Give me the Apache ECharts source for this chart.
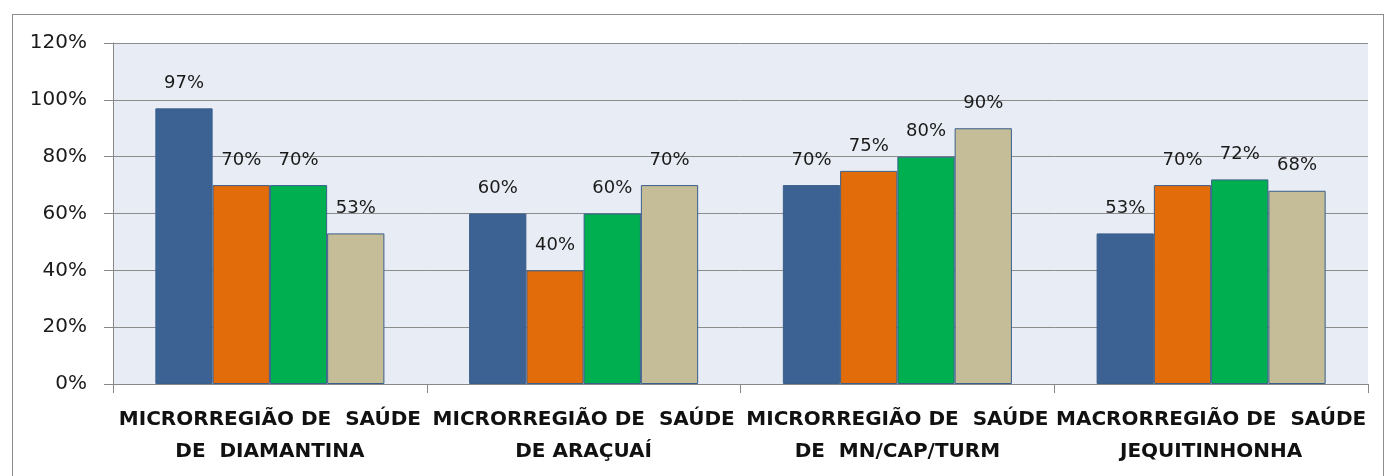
<!DOCTYPE html>
<html>
<head>
<meta charset="utf-8">
<script src="https://cdn.jsdelivr.net/npm/echarts@6/dist/echarts.min.js"></script>
<style>
    html, body { margin: 0; padding: 0; background: #FFF; }
    .frame {
        position: absolute;
        left: 12px; top: 14px;
        width: 1372px; height: 470px;
        border: 1px solid #8C8C8C;
        box-sizing: border-box;
    }
    #chart { position: absolute; left: 0; top: 0; width: 1388px; height: 476px; }
</style>
</head>
<body>
<div class="frame"></div>
<div id="chart"></div>
<script>
const categories = [
    'MICRORREGIÃO DE  SAÚDE\nDE  DIAMANTINA',
    'MICRORREGIÃO DE  SAÚDE\nDE ARAÇUAÍ',
    'MICRORREGIÃO DE  SAÚDE\nDE  MN/CAP/TURM',
    'MACRORREGIÃO DE  SAÚDE\nJEQUITINHONHA'
];
const serie1 = [97, 60, 70, 53];
const serie2 = [70, 40, 75, 70];
const serie3 = [70, 60, 80, 72];
const serie4 = [53, 70, 90, 68];

const colorList = ['#3C6294', '#E36C0A', '#00B050', '#C4BD97'];
const fontFamily = '"DejaVu Sans", sans-serif';

const myChart = echarts.init(document.getElementById('chart'));

function makeSeries(name, data, index) {
    return {
        name: name,
        type: 'bar',
        data: data,
        barGap: '0%',
        barCategoryGap: '27%',
        itemStyle: { color: colorList[index], borderColor: '#3A5F8B', borderWidth: 1 },
        label: {
            show: true,
            position: 'top',
            distance: 16,
            formatter: '{c}%',
            fontFamily: fontFamily,
            fontSize: 18,
            color: '#1A1A1A'
        }
    };
}

myChart.setOption({
    animation: false,
    grid: {
        left: 113, right: 20, top: 43, bottom: 92,
        show: true,
        backgroundColor: '#E8ECF4',
        borderWidth: 0
    },
    xAxis: {
        type: 'category',
        data: categories,
        axisLine: { lineStyle: { color: '#888' } },
        axisTick: { show: true, length: 9, lineStyle: { color: '#888' } },
        axisLabel: {
            interval: 0,
            fontFamily: fontFamily,
            fontSize: 20,
            fontWeight: 'bold',
            color: '#111',
            lineHeight: 32,
            margin: 20
        }
    },
    yAxis: {
        type: 'value',
        min: 0,
        max: 120,
        interval: 20,
        axisLine: { show: true, lineStyle: { color: '#888' } },
        axisTick: { show: true, length: 9, lineStyle: { color: '#888' } },
        splitLine: { show: true, lineStyle: { color: '#8C8C8C' } },
        axisLabel: {
            formatter: '{value}%',
            fontFamily: fontFamily,
            fontSize: 20,
            color: '#1A1A1A',
            margin: 26
        }
    },
    series: [
        makeSeries('Série 1', serie1, 0),
        makeSeries('Série 2', serie2, 1),
        makeSeries('Série 3', serie3, 2),
        makeSeries('Série 4', serie4, 3)
    ]
});
</script>
</body>
</html>
